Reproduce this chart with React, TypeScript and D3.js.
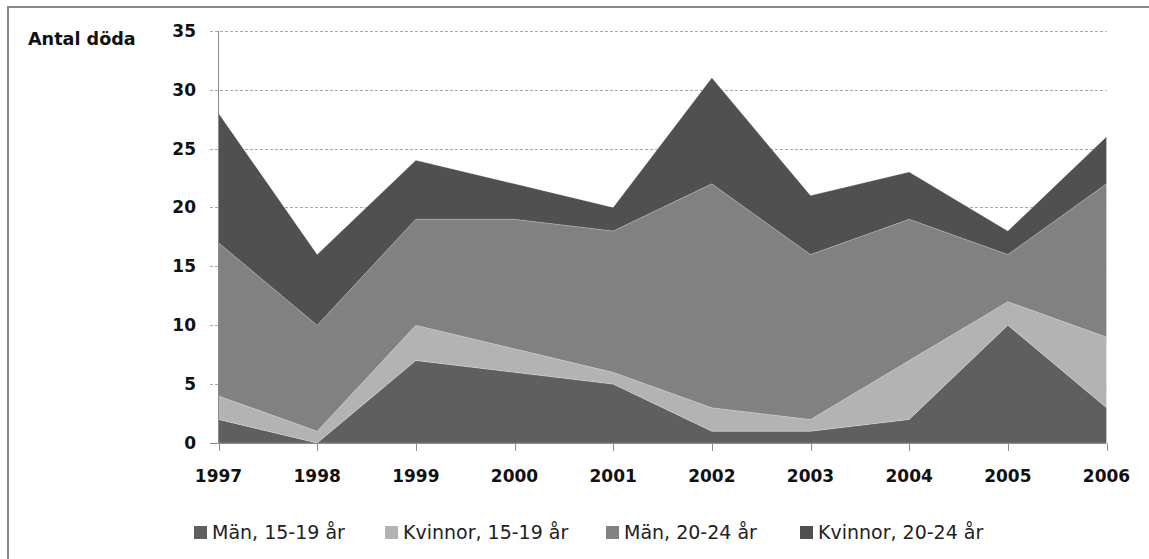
import React from "react";
import * as d3 from "d3";

const years = ["1997", "1998", "1999", "2000", "2001", "2002", "2003", "2004", "2005", "2006"];
const manYoung = [2, 0, 7, 6, 5, 1, 1, 2, 10, 3];
const kvinnorYoung = [2, 1, 3, 2, 1, 2, 1, 5, 2, 6];
const manOld = [13, 9, 9, 11, 12, 19, 14, 12, 4, 13];
const kvinnorOld = [11, 6, 5, 3, 2, 9, 5, 4, 2, 4];
const seriesNames = ["Män, 15-19 år", "Kvinnor, 15-19 år", "Män, 20-24 år", "Kvinnor, 20-24 år"];
const seriesColors = ["#5f5f5f", "#b3b3b3", "#818181", "#505050"];
const yTicks = [0, 5, 10, 15, 20, 25, 30, 35];
const yTitle = "Antal döda";

const W = 1149;
const H = 559;

export default function App() {
  const keys = ["a", "b", "c", "d"];
  const rows = years.map((y, i) => ({
    year: y,
    a: manYoung[i],
    b: kvinnorYoung[i],
    c: manOld[i],
    d: kvinnorOld[i],
  }));
  const stacked = d3.stack<any>().keys(keys)(rows);

  const x = d3.scalePoint<string>().domain(years).range([218.5, 1106.5]);
  const y = d3.scaleLinear().domain([0, 35]).range([443, 30.7]);

  const area = d3
    .area<any>()
    .x((d) => x(d.data.year) as number)
    .y0((d) => y(d[0]))
    .y1((d) => y(d[1]));

  const bold = { fontFamily: "'DejaVu Sans', sans-serif", fontWeight: 700, fontSize: 17, fill: "#111" } as const;
  const legendX = [194, 385, 606, 800];

  return (
    <svg width={W} height={H} style={{ position: "absolute", left: 0, top: 0, background: "#fff" }}>
      <rect x={0} y={0} width={W} height={H} fill="#fff" />
      <rect x={8} y={7} width={1300} height={700} fill="#fff" stroke="#878787" strokeWidth={2} />

      {yTicks.slice(1).map((t) => (
        <line key={"g" + t} x1={210} x2={1106.5} y1={Math.round(y(t)) + 0.5} y2={Math.round(y(t)) + 0.5}
          stroke="#a8a8a8" strokeWidth={1} strokeDasharray="3,2" />
      ))}

      {stacked.map((s, i) => (
        <path key={s.key} d={area(s as any) || ""} fill={seriesColors[i]}
          stroke="rgba(255,255,255,0.25)" strokeWidth={0.8} />
      ))}

      <line x1={218.5} x2={218.5} y1={30.7} y2={443.5} stroke="#8a8a8a" strokeWidth={1} />
      <line x1={218.5} x2={1106.5} y1={443.5} y2={443.5} stroke="#8a8a8a" strokeWidth={1} />
      <line x1={210} x2={218.5} y1={443.5} y2={443.5} stroke="#8a8a8a" strokeWidth={1} />
      {years.map((yr) => (
        <line key={"t" + yr} x1={Math.round(x(yr) as number) + 0.5} x2={Math.round(x(yr) as number) + 0.5}
          y1={443.5} y2={451} stroke="#8a8a8a" strokeWidth={1} />
      ))}

      {yTicks.map((t) => (
        <text key={"yl" + t} x={196} y={y(t) + 6} textAnchor="end" style={bold}>{t}</text>
      ))}
      {years.map((yr) => (
        <text key={"xl" + yr} x={x(yr) as number} y={482} textAnchor="middle" style={bold}>{yr}</text>
      ))}
      <text x={28} y={45} style={{ ...bold, fontSize: 17.6 }}>{yTitle}</text>

      {seriesNames.map((n, i) => (
        <g key={n}>
          <rect x={legendX[i]} y={526} width={13} height={13} fill={seriesColors[i]} />
          <text x={legendX[i] + 18} y={539} style={{ fontFamily: "'DejaVu Sans', sans-serif", fontSize: 19, fill: "#222" }}>{n}</text>
        </g>
      ))}
    </svg>
  );
}
